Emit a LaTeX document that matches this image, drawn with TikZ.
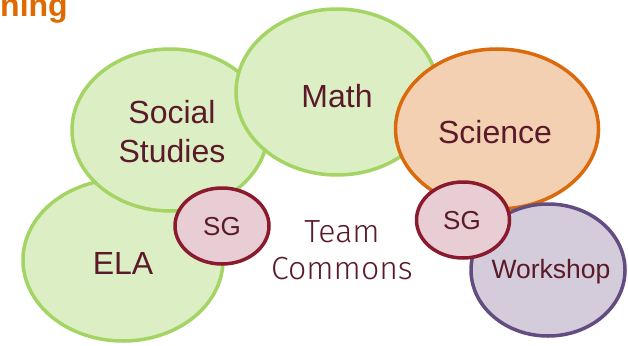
\documentclass[tikz,border=0pt]{standalone}
\usepackage{fontspec}
\setmainfont{Liberation Sans}
\newfontfamily\lightfont{Fira Sans Light}
\usetikzlibrary{shapes.geometric}
\definecolor{greenfill}{HTML}{DCEFC4}
\definecolor{greenline}{HTML}{A4D463}
\definecolor{scifill}{HTML}{F4D0B2}
\definecolor{sciline}{HTML}{DB6A0C}
\definecolor{sgfill}{HTML}{E8CDD4}
\definecolor{sgline}{HTML}{8A1A2E}
\definecolor{wsfill}{HTML}{D4CCDA}
\definecolor{wsline}{HTML}{634C80}
\definecolor{txt}{HTML}{5A1A29}
\definecolor{titleorange}{HTML}{E06A00}
\begin{document}
\begin{tikzpicture}[x=1pt,y=-1pt,
  blob/.style={ellipse, inner sep=0pt, outer sep=0pt, line width=3.5pt},
  subj/.style={blob, fill=greenfill, draw=greenline},
  sci/.style={blob, fill=scifill, draw=sciline},
  sg/.style={blob, fill=sgfill, draw=sgline},
  ws/.style={blob, fill=wsfill, draw=wsline},
  lbl/.style={text=txt, align=center, inner sep=0pt, font=\fontsize{32}{39}\selectfont},
  sglbl/.style={lbl, font=\fontsize{26}{32}\selectfont},
  wslbl/.style={lbl, font=\fontsize{26.5}{32}\selectfont},
  team/.style={lbl, font=\lightfont\fontsize{32}{37}\selectfont}]
\useasboundingbox (0,0) rectangle (628,345);
\fill[white] (0,0) rectangle (628,345);
\node[anchor=base west, inner sep=0pt, text=titleorange, font=\bfseries\fontsize{32}{38}\selectfont] (title) at (0,17) {ning};
\node[subj, minimum width=200pt, minimum height=162pt] (ela) at (123,260) {};
\node[subj, minimum width=196pt, minimum height=162pt] (ss) at (170,130) {};
\node[subj, minimum width=202pt, minimum height=166pt] (math) at (337,92) {};
\node[sci, minimum width=203pt, minimum height=160pt] (sci) at (497,129) {};
\node[ws, minimum width=154pt, minimum height=132pt] (ws) at (548,270) {};
\node[sg, minimum width=94pt, minimum height=76pt] (sg1) at (222,226) {};
\node[sg, minimum width=93pt, minimum height=76pt] (sg2) at (463,220) {};
\node[lbl] (elat) at (123,263) {ELA};
\node[lbl] (sst) at (172,132) {Social\\Studies};
\node[lbl] (matht) at (337,96) {Math};
\node[lbl] (scit) at (495,132) {Science};
\node[wslbl] (wst) at (551,272) {Workshop};
\node[sglbl] (sg1t) at (222,227) {SG};
\node[sglbl] (sg2t) at (462,221) {SG};
\node[team] (teamt) at (342,250) {Team\\Commons};
\end{tikzpicture}
\end{document}
